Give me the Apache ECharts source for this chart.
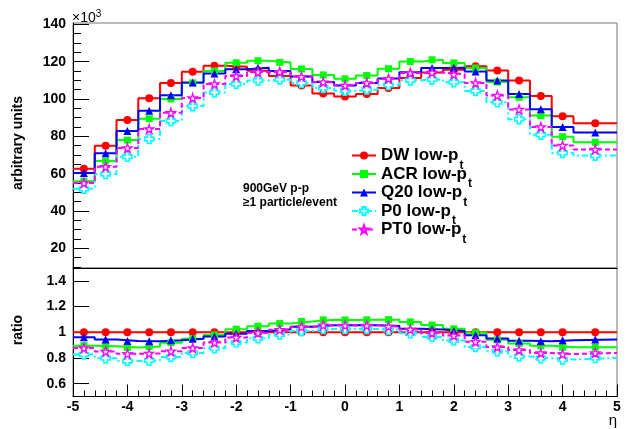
<!DOCTYPE html>
<html>
<head>
<meta charset="utf-8">
<script src="https://cdn.jsdelivr.net/npm/echarts@6/dist/echarts.min.js"></script>
<style>
html, body { margin: 0; padding: 0; background: #fff; }
#chart { width: 635px; height: 429px; }
</style>
</head>
<body>
<div id="chart"></div>
<script>
// Pseudorapidity bin edges (the last bin is twice as wide)
const binEdges = [-5, -4.6, -4.2, -3.8, -3.4, -3.0, -2.6, -2.2, -1.8, -1.4, -1.0, -0.6, -0.2,
                  0.2, 0.6, 1.0, 1.4, 1.8, 2.2, 2.6, 3.0, 3.4, 3.8, 4.2, 5];

const tuneNames = ['DW', 'ACR', 'Q20', 'P0', 'PT0'];

// dN/deta per tune, in units of 10^3
const dwValues  = [62.7, 75.0, 88.8, 100.4, 108.6, 114.6, 117.8, 117.3, 115.1, 112.3, 107.2, 103.0,
                   101.4, 102.7, 105.9, 111.2, 114.2, 115.6, 117.6, 115.2, 109.9, 101.6, 90.7, 87.0];
const acrValues = [56.0, 66.8, 78.0, 89.4, 100.0, 108.6, 115.0, 119.4, 120.5, 119.6, 116.1, 112.9,
                   110.8, 112.6, 116.2, 120.1, 121.0, 119.3, 116.6, 109.1, 100.9, 91.1, 79.8, 76.8];
const q20Values = [60.4, 70.9, 82.8, 93.7, 102.0, 108.8, 113.7, 115.9, 116.8, 115.0, 112.1, 109.1,
                   107.2, 108.6, 111.0, 114.3, 116.6, 116.8, 114.7, 109.9, 102.7, 94.5, 85.0, 82.1];
const p0Values  = [51.9, 59.8, 69.1, 78.6, 88.2, 96.2, 103.5, 108.1, 109.9, 110.5, 108.6, 105.9,
                   104.4, 105.1, 107.5, 110.0, 110.5, 109.0, 104.3, 98.3, 89.2, 80.9, 71.1, 69.7];
const pt0Values = [55.0, 63.7, 73.8, 83.9, 92.6, 100.5, 108.1, 112.3, 114.5, 114.5, 112.0, 109.0,
                   107.3, 108.6, 110.9, 113.9, 114.2, 113.2, 108.6, 101.9, 94.4, 85.0, 75.1, 73.0];

// Ratio of each tune to DW
const dwRatio  = [1, 1, 1, 1, 1, 1, 1, 1, 1, 1, 1, 1, 1, 1, 1, 1, 1, 1, 1, 1, 1, 1, 1, 1];
const acrRatio = [0.895, 0.891, 0.881, 0.889, 0.919, 0.950, 0.979, 1.024, 1.047, 1.069, 1.084, 1.097,
                  1.096, 1.097, 1.098, 1.080, 1.056, 1.027, 0.997, 0.941, 0.913, 0.894, 0.883, 0.884];
const q20Ratio = [0.962, 0.943, 0.931, 0.929, 0.937, 0.950, 0.967, 0.988, 1.009, 1.023, 1.042, 1.055,
                  1.054, 1.054, 1.048, 1.028, 1.021, 1.009, 0.976, 0.952, 0.934, 0.930, 0.937, 0.943];
const p0Ratio  = [0.827, 0.798, 0.776, 0.781, 0.808, 0.839, 0.876, 0.920, 0.953, 0.983, 1.010, 1.025,
                  1.025, 1.026, 1.018, 0.992, 0.964, 0.936, 0.886, 0.852, 0.812, 0.798, 0.788, 0.800];
const pt0Ratio = [0.877, 0.850, 0.832, 0.835, 0.852, 0.877, 0.920, 0.959, 0.995, 1.020, 1.042, 1.055,
                  1.053, 1.052, 1.045, 1.022, 0.995, 0.974, 0.926, 0.885, 0.862, 0.838, 0.830, 0.839];

// Axis tick positions
const yTopMajor = [20, 40, 60, 80, 100, 120, 140];
const yTopMinor = [10, 15, 25, 30, 35, 45, 50, 55, 65, 70, 75, 85, 90, 95, 105, 110, 115, 125, 130, 135];
const yRatioMajor = [0.6, 0.8, 1, 1.2, 1.4];

const FONT = '"Liberation Sans", Arial, Helvetica, sans-serif';

const crossPath = 'path://M3,0L7,0L7,3L10,3L10,7L7,7L7,10L3,10L3,7L0,7L0,3L3,3Z';
const starPath = 'path://M10,0L12.23,6.93L19.51,6.91L13.61,11.17L15.88,18.09L10,13.8L4.12,18.09L6.39,11.17L0.49,6.91L7.77,6.93Z';

const styles = [
  { color: '#ff0000', dash: 'solid',  symbol: 'circle',   size: 8, fill: '#ff0000', bw: 0 },
  { color: '#00ff00', dash: 'solid',  symbol: 'rect',     size: 7, fill: '#00ff00', bw: 0 },
  { color: '#0000ff', dash: 'solid',  symbol: 'triangle', size: 8, fill: '#0000ff', bw: 0 },
  { color: '#00ffff', dash: [6, 3, 2, 3], symbol: crossPath, size: 9, fill: '#ffffff', bw: 1.6 },
  { color: '#ff00ff', dash: [5, 3],   symbol: starPath,   size: 9, fill: '#ffffff', bw: 1.3 }
];

const topSets = [dwValues, acrValues, q20Values, p0Values, pt0Values];
const ratioSets = [dwRatio, acrRatio, q20Ratio, p0Ratio, pt0Ratio];

const binCenters = binEdges.slice(0, -1).map((e, i) => (e + binEdges[i + 1]) / 2);

// histogram outline: one point per left edge plus the closing right edge
function stepPoints(vals) {
  const pts = vals.map((v, i) => [binEdges[i], v]);
  pts.push([binEdges[vals.length], vals[vals.length - 1]]);
  return pts;
}

const series = [];
function addPanel(sets, axisIdx, suffix) {
  sets.forEach((vals, k) => {
    const st = styles[k];
    series.push({
      type: 'line',
      name: tuneNames[k] + ' low-p' + suffix,
      xAxisIndex: axisIdx, yAxisIndex: axisIdx === 0 ? 0 : 2,
      data: stepPoints(vals),
      step: 'end',
      showSymbol: false,
      symbol: st.symbol,
      symbolSize: st.size,
      lineStyle: { color: st.color, width: 2, type: st.dash },
      itemStyle: { color: st.fill, borderColor: st.color, borderWidth: st.bw },
      silent: true,
      animation: false,
      z: 2
    });
  });
  sets.forEach((vals, k) => {
    const st = styles[k];
    series.push({
      type: 'scatter',
      name: tuneNames[k] + ' markers' + suffix,
      xAxisIndex: axisIdx, yAxisIndex: axisIdx === 0 ? 0 : 2,
      data: vals.map((v, i) => [binCenters[i], v]),
      symbol: st.symbol,
      symbolSize: st.size,
      itemStyle: { color: st.fill, borderColor: st.color, borderWidth: st.bw, opacity: 1 },
      silent: true,
      animation: false,
      z: 3
    });
  });
}
addPanel(topSets, 0, '');
addPanel(ratioSets, 1, ' ');

const tickLabel = { color: '#000', fontFamily: FONT, fontWeight: 'bold', fontSize: 14 };

const option = {
  backgroundColor: '#fff',
  animation: false,
  grid: [
    { left: 73, right: 18, top: 23, height: 245, show: true, borderColor: '#777', borderWidth: 1, backgroundColor: 'transparent' },
    { left: 73, right: 18, top: 268, height: 128.5, show: true, borderColor: '#777', borderWidth: 1, backgroundColor: 'transparent' }
  ],
  xAxis: [
    { type: 'value', gridIndex: 0, min: -5, max: 5, interval: 1, position: 'bottom',
      axisLine: { show: true, onZero: false, lineStyle: { color: '#000', width: 1 } },
      axisTick: { show: false }, axisLabel: { show: false }, splitLine: { show: false } },
    { type: 'value', gridIndex: 1, min: -5, max: 5, interval: 1, position: 'bottom',
      axisLine: { show: true, onZero: false, lineStyle: { color: '#000', width: 1 } },
      axisTick: { show: true, inside: true, length: 12, lineStyle: { color: '#000' } },
      minorTick: { show: true, splitNumber: 5, length: 6, lineStyle: { color: '#000' } },
      axisLabel: Object.assign({ margin: 4 }, tickLabel),
      splitLine: { show: false } }
  ],
  yAxis: [
    { type: 'value', gridIndex: 0, min: 9.5, max: 140.7, position: 'left',
      axisLine: { show: true, onZero: false, lineStyle: { color: '#000' } },
      axisTick: { show: true, inside: true, length: 16, customValues: yTopMajor, lineStyle: { color: '#000' } },
      axisLabel: Object.assign({ margin: 7, customValues: yTopMajor }, tickLabel),
      splitLine: { show: false } },
    { type: 'value', gridIndex: 0, min: 9.5, max: 140.7, position: 'left', offset: 0,
      axisLine: { show: false, onZero: false },
      axisTick: { show: true, inside: true, length: 8, customValues: yTopMinor, lineStyle: { color: '#000' } },
      axisLabel: { show: false },
      splitLine: { show: false } },
    { type: 'value', gridIndex: 1, min: 0.5, max: 1.5, position: 'left',
      axisLine: { show: true, onZero: false, lineStyle: { color: '#000' } },
      axisTick: { show: true, inside: true, length: 16, customValues: yRatioMajor, lineStyle: { color: '#000' } },
      axisLabel: Object.assign({ margin: 7, customValues: yRatioMajor }, tickLabel),
      splitLine: { show: false } }
  ],
  legend: {
    orient: 'vertical',
    left: 351, top: 147,
    padding: 0,
    itemWidth: 24, itemHeight: 10,
    itemGap: -6,
    selectedMode: false,
    data: tuneNames.map(n => n + ' low-p'),
    formatter: name => '{m|' + name + '}{s|t}',
    textStyle: {
      color: '#000', fontFamily: FONT, fontWeight: 'bold', fontSize: 17,
      rich: {
        m: { fontFamily: FONT, fontWeight: 'bold', fontSize: 17, color: '#000' },
        s: { fontFamily: FONT, fontWeight: 'bold', fontSize: 12, color: '#000', padding: [20, 0, 0, 1] }
      }
    }
  },
  graphic: [
    { type: 'text', left: 72, top: 9,
      style: { text: '×10{p|3}', fontFamily: FONT, fontSize: 14, fill: '#000',
               rich: { p: { fontFamily: FONT, fontSize: 10, fill: '#000', padding: [0, 0, 8, 0] } } } },
    { type: 'text', x: 18, y: 143, rotation: Math.PI / 2,
      style: { text: 'arbitrary units', fontFamily: FONT, fontWeight: 'bold', fontSize: 14, fill: '#000',
               align: 'center', verticalAlign: 'middle', textAlign: 'center', textVerticalAlign: 'middle' } },
    { type: 'text', x: 18, y: 330, rotation: Math.PI / 2,
      style: { text: 'ratio', fontFamily: FONT, fontWeight: 'bold', fontSize: 14, fill: '#000',
               align: 'center', verticalAlign: 'middle', textAlign: 'center', textVerticalAlign: 'middle' } },
    { type: 'text', x: 617, y: 421,
      style: { text: 'η', fontFamily: FONT, fontSize: 15, fill: '#000',
               align: 'right', verticalAlign: 'middle', textAlign: 'right', textVerticalAlign: 'middle' } },
    { type: 'text', x: 243, y: 189,
      style: { text: '900GeV p-p', fontFamily: FONT, fontWeight: 'bold', fontSize: 12, fill: '#000',
               align: 'left', verticalAlign: 'middle', textAlign: 'left', textVerticalAlign: 'middle' } },
    { type: 'text', x: 243, y: 203,
      style: { text: '≥1 particle/event', fontFamily: FONT, fontWeight: 'bold', fontSize: 12, fill: '#000',
               align: 'left', verticalAlign: 'middle', textAlign: 'left', textVerticalAlign: 'middle' } }
  ],
  series: series
};

const chart = echarts.init(document.getElementById('chart'), null, { renderer: 'canvas' });
chart.setOption(option);
</script>
</body>
</html>
